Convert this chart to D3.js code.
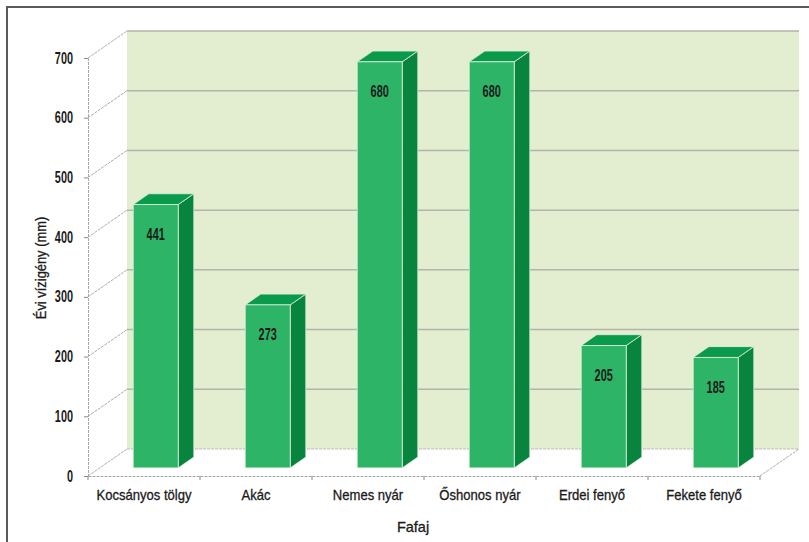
<!DOCTYPE html>
<html>
<head>
<meta charset="utf-8">
<script src="https://cdnjs.cloudflare.com/ajax/libs/d3/7.8.5/d3.min.js"></script>
<style>
  body { margin: 0; background: #fff; }
  svg { display: block; font-family: "Liberation Sans", Arial, sans-serif; }
</style>
</head>
<body>
<div id="chart"></div>
<script>
// data
const categories = ['Kocsányos tölgy', 'Akác', 'Nemes nyár', 'Őshonos nyár', 'Erdei fenyő', 'Fekete fenyő'];
const values = [441, 273, 680, 680, 205, 185];
const yTicks = [0, 100, 200, 300, 400, 500, 600, 700];

const width = 809, height = 542;
// depth of the 3d box in pixels
const depthX = 39, depthY = -27;
const ink = '#1a1a1a';

const svg = d3.select('#chart').append('svg')
    .attr('width', width)
    .attr('height', height);

// squeeze text horizontally, the original uses a narrow face
function condense(sel, k) {
    sel.each(function() {
        const w = this.getComputedTextLength();
        d3.select(this).attr('textLength', w * k).attr('lengthAdjust', 'spacingAndGlyphs');
    });
}

const x = d3.scaleBand()
    .domain(categories)
    .range([88, 760]);

const y = d3.scaleLinear()
    .domain([0, 700])
    .range([476, 58]);

// projection: value v at depth d (0 front, 1 back)
const px = (xv, d) => xv + d * depthX;
const py = (v, d) => y(v) + d * depthY;

// back wall
const x0 = x.range()[0], x1 = x.range()[1];
svg.append('rect')
    .attr('x', px(x0, 1))
    .attr('y', py(700, 1))
    .attr('width', x1 - x0)
    .attr('height', y(0) - y(700))
    .attr('fill', '#e3eed0');

// gridlines on the back wall and diagonals on the side wall
const grid = svg.append('g');
yTicks.forEach(t => {
    if (t > 0) {
        grid.append('line')
            .attr('x1', px(x0, 1)).attr('x2', px(x1, 1))
            .attr('y1', py(t, 1)).attr('y2', py(t, 1))
            .attr('stroke', '#b3b3aa').attr('stroke-width', 1.5);
    }
    grid.append('line')
        .attr('x1', px(x0, 0)).attr('x2', px(x0, 1))
        .attr('y1', py(t, 0)).attr('y2', py(t, 1))
        .attr('stroke', '#aaa').attr('stroke-width', 1)
        .attr('stroke-dasharray', '3,1');
});

// floor edges
grid.append('line')
    .attr('x1', px(x0, 1)).attr('x2', px(x1, 1))
    .attr('y1', py(0, 1)).attr('y2', py(0, 1))
    .attr('stroke', '#bbb').attr('stroke-dasharray', '3,1');
grid.append('line')
    .attr('x1', px(x1, 0)).attr('x2', px(x1, 1))
    .attr('y1', py(0, 0)).attr('y2', py(0, 1))
    .attr('stroke', '#aaa').attr('stroke-dasharray', '3,1');

// y axis
const yAxis = svg.append('g')
    .attr('transform', `translate(${x0},0)`)
    .call(d3.axisLeft(y).tickValues(yTicks).tickSize(4).tickPadding(11));
yAxis.select('.domain').attr('stroke', '#aaa').attr('stroke-dasharray', '3,1');
yAxis.selectAll('.tick line').attr('stroke', '#888');
yAxis.selectAll('text')
    .attr('font-size', 16).attr('font-weight', 'bold')
    .attr('fill', ink)
    .attr('font-family', '"Liberation Sans", Arial, sans-serif')
    .call(condense, 0.68);

// x axis
const xAxis = svg.append('g')
    .attr('transform', `translate(0,${y(0)})`)
    .call(d3.axisBottom(x).tickSize(0).tickPadding(14));
xAxis.select('.domain').attr('stroke', '#aaa').attr('stroke-dasharray', '3,1');
xAxis.selectAll('text')
    .attr('font-size', 14.5)
    .attr('fill', ink)
    .attr('stroke', ink).attr('stroke-width', 0.3)
    .attr('font-family', '"Liberation Sans", Arial, sans-serif')
    .call(condense, 0.9);
// category separators
xAxis.selectAll('.sep')
    .data(categories.map(c => x(c)).concat([x1]))
    .enter().append('line')
    .attr('x1', d => d).attr('x2', d => d)
    .attr('y1', 0).attr('y2', 4)
    .attr('stroke', '#888');

// bars
const barW = 45;
const dFront = 0.3, dBack = 0.7;
const bars = svg.append('g');
categories.forEach((c, i) => {
    const v = values[i];
    const bx = x(c) + (x.bandwidth() - barW) / 2;
    const fl = px(bx, dFront), fr = px(bx + barW, dFront);
    const bl = px(bx, dBack), br = px(bx + barW, dBack);
    const fTop = py(v, dFront), fBot = py(0, dFront);
    const bTop = py(v, dBack), bBot = py(0, dBack);

    // side face
    bars.append('path')
        .attr('d', `M${fr},${fTop}L${br},${bTop}L${br},${bBot}L${fr},${fBot}Z`)
        .attr('fill', '#07853f').attr('stroke', '#dfeedd').attr('stroke-width', 0.8);
    // top face
    bars.append('path')
        .attr('d', `M${fl},${fTop}L${bl},${bTop}L${br},${bTop}L${fr},${fTop}Z`)
        .attr('fill', '#0a9a4b').attr('stroke', '#dfeedd').attr('stroke-width', 0.8);
    // front face
    bars.append('rect')
        .attr('x', fl).attr('y', fTop)
        .attr('width', barW).attr('height', fBot - fTop)
        .attr('fill', '#2db467').attr('stroke', '#dfeedd').attr('stroke-width', 0.8);
    // value label
    bars.append('text')
        .attr('x', fl + barW / 2)
        .attr('y', fTop + 30)
        .attr('dy', '0.35em')
        .attr('text-anchor', 'middle')
        .attr('font-size', 16).attr('font-weight', 'bold')
        .attr('fill', ink)
        .text(v)
        .call(condense, 0.68);
});

// axis titles
svg.append('text')
    .attr('transform', 'translate(41,268) rotate(-90)')
    .attr('dy', '0.35em')
    .attr('text-anchor', 'middle')
    .attr('font-size', 14)
    .attr('fill', ink)
    .attr('stroke', ink).attr('stroke-width', 0.3)
    .text('Évi vízigény (mm)')
    .call(condense, 0.92);

svg.append('text')
    .attr('x', 413).attr('y', 527)
    .attr('dy', '0.35em')
    .attr('text-anchor', 'middle')
    .attr('font-size', 14.5)
    .attr('fill', ink)
    .attr('stroke', ink).attr('stroke-width', 0.3)
    .text('Fafaj');

// outer frame (top and left edges visible)
svg.append('path')
    .attr('d', `M7,${height}L7,7L${width},7`)
    .attr('fill', 'none')
    .attr('stroke', '#5a5a5a')
    .attr('stroke-width', 2);
</script>
</body>
</html>
